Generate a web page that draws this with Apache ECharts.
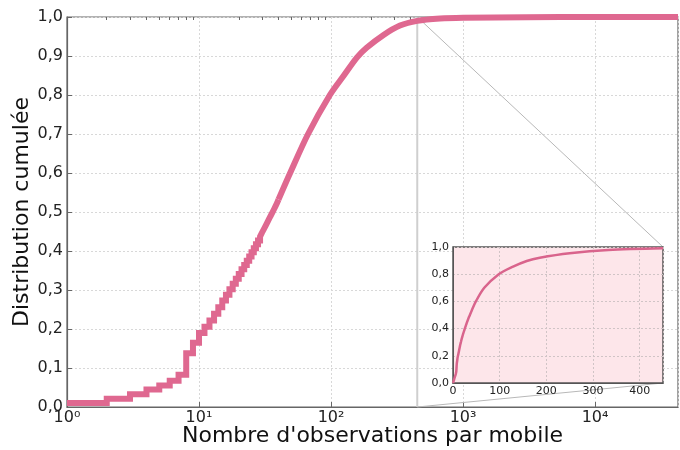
<!DOCTYPE html>
<html>
<head>
<meta charset="utf-8">
<script src="https://cdn.jsdelivr.net/npm/echarts@6/dist/echarts.min.js"></script>
<style>html,body{margin:0;padding:0;background:#fff}#c{width:680px;height:450px}</style>
</head>
<body>
<div id="c"></div>
<script>
// Integer steps of the empirical CDF (visible staircase)
const stepObs = [1,2,3,4,5,6,7,8,9,10,11,12,13,14,15,16,17,18,19,20,21,22,23,24,25,26,27,28,29,30,31,32,33,34,35,36,37,38,39,40];
const stepCdf = [0.010,0.021,0.033,0.045,0.055,0.067,0.083,0.138,0.165,0.190,0.206,0.222,0.239,0.256,0.273,0.288,0.302,0.316,0.329,0.341,0.353,0.364,0.375,0.386,0.397,0.407,0.417,0.427,0.437,0.447,0.456,0.465,0.474,0.483,0.491,0.499,0.507,0.515,0.523,0.532];
// Smooth tail of the CDF
const tailObs = [40,49,67,98,125,158,186,250,333,450,670,1000,3000,10000,42500];
const tailCdf = [0.532,0.600,0.700,0.800,0.850,0.897,0.921,0.954,0.978,0.990,0.996,0.998,0.9995,0.9999,1.0];
// Inset origin point
const insetStartObs = [0];
const insetStartCdf = [0];
// Axis settings
const xMaxMain = 42500;
const zoomLimit = 450;
const xMajorTicks = [1,10,100,1000,10000];
const xMinorTicks = [];
for (const d of xMajorTicks) for (let k=2;k<=9;k++) if (d*k < xMaxMain) xMinorTicks.push(d*k);
const sup = ['\u2070','\u00B9','\u00B2','\u00B3','\u2074','\u2075'];

const pairs = (xs, ys) => xs.map((x,i)=>[x, ys[i]]);
const stepData = pairs(stepObs, stepCdf);
const tailData = pairs(tailObs, tailCdf);
const insetData = pairs(insetStartObs, insetStartCdf).concat(stepData, tailData.slice(1)).filter(p=>p[0] <= zoomLimit);

const FONT = 'DejaVu Sans';
const comma = v => v.toFixed(1).replace('.', ',');
const pink = '#df6890';

const chart = echarts.init(document.getElementById('c'), null, {renderer:'canvas'});
chart.setOption({
  animation: false,
  textStyle: {fontFamily: FONT},
  grid: [
    {left: 67, right: 2, top: 17, bottom: 43, outerBoundsMode: 'none', containLabel: false, show: true, borderColor: '#666', borderWidth: 1.2, backgroundColor: 'transparent'},
    {left: 453, width: 210, top: 247, height: 136, outerBoundsMode: 'none', containLabel: false, show: true, borderColor: '#555', borderWidth: 1.5, backgroundColor: '#fde6ea', z: 5}
  ],
  xAxis: [
    {type: 'log', logBase: 10, min: 1, max: xMaxMain, gridIndex: 0,
     name: "Nombre d'observations par mobile", nameLocation: 'middle', nameGap: 18, nameMoveOverlap: false,
     nameTextStyle: {fontSize: 22, color: '#111', fontFamily: FONT},
     axisLine: {show: true, lineStyle: {color: '#666', width: 1.2}},
     axisTick: {show: true, inside: true, length: 5, lineStyle: {color: '#666'}},
     axisLabel: {fontSize: 16, color: '#222', margin: 3, showMaxLabel: false,
       formatter: v => { const e = Math.round(Math.log10(v)); if (Math.abs(Math.pow(10,e)-v) > 1e-6*v) return ''; return '10' + sup[e]; }},
     splitLine: {show: true, lineStyle: {color: '#d8d8d8', type: [2,2], width: 1}}},
    {type: 'log', logBase: 10, min: 1, max: xMaxMain, gridIndex: 0,
     axisLine: {show: false}, axisLabel: {show: false}, splitLine: {show: false},
     axisTick: {show: true, inside: true, length: 3, customValues: xMinorTicks, lineStyle: {color: '#666'}}},
    {type: 'value', min: 0, max: zoomLimit, interval: 100, gridIndex: 1, z: 6,
     axisLine: {show: true, lineStyle: {color: '#555'}},
     axisTick: {show: false},
     axisLabel: {fontSize: 11, color: '#222', margin: 3, showMaxLabel: false},
     splitLine: {show: true, lineStyle: {color: '#d0c4c6', type: [2,2]}}}
  ],
  yAxis: [
    {type: 'value', min: 0, max: 1, interval: 0.1, gridIndex: 0,
     name: 'Distribution cumulée', nameLocation: 'middle', nameGap: 34, nameMoveOverlap: false,
     nameTextStyle: {fontSize: 22, color: '#111', fontFamily: FONT},
     axisLine: {show: true, lineStyle: {color: '#666', width: 1.2}},
     axisTick: {show: true, inside: true, length: 5, lineStyle: {color: '#666'}},
     axisLabel: {fontSize: 16, color: '#222', margin: 4, formatter: comma},
     splitLine: {show: true, lineStyle: {color: '#d8d8d8', type: [2,2], width: 1}}},
    {type: 'value', min: 0, max: 1, interval: 0.2, gridIndex: 1, z: 6,
     axisLine: {show: true, lineStyle: {color: '#555'}},
     axisTick: {show: false},
     axisLabel: {fontSize: 11, color: '#222', margin: 4, formatter: comma},
     splitLine: {show: true, lineStyle: {color: '#d0c4c6', type: [2,2]}}}
  ],
  series: [
    {type: 'line', xAxisIndex: 0, yAxisIndex: 0, data: stepData, step: 'end', showSymbol: false,
     lineStyle: {color: pink, width: 6, cap: 'butt', join: 'miter'}, z: 3},
    {type: 'line', xAxisIndex: 0, yAxisIndex: 0, data: tailData, showSymbol: false, smooth: 0.3,
     lineStyle: {color: pink, width: 6, cap: 'butt'}, z: 3},
    {type: 'line', xAxisIndex: 2, yAxisIndex: 1, data: insetData, showSymbol: false, smooth: 0.3,
     lineStyle: {color: '#d9648c', width: 2.5}, z: 8, clip: true}
  ]
});

function px(gi, pt) { return chart.convertToPixel({gridIndex: gi}, pt); }
const mTop = px(0, [zoomLimit, 1]);
const mBot = px(0, [zoomLimit, 0]);
const iTop = px(1, [zoomLimit, 1]);
const iBot = px(1, [zoomLimit, 0]);
chart.setOption({
  graphic: [
    {type: 'line', z: 1, shape: {x1: mTop[0], y1: mTop[1], x2: mBot[0], y2: mBot[1]}, style: {stroke: '#cfcfcf', lineWidth: 2}},
    {type: 'line', z: 1, shape: {x1: mTop[0], y1: mTop[1], x2: iTop[0], y2: iTop[1]}, style: {stroke: '#b8b8b8', lineWidth: 1}},
    {type: 'line', z: 1, shape: {x1: mBot[0], y1: mBot[1], x2: iBot[0], y2: iBot[1]}, style: {stroke: '#b8b8b8', lineWidth: 1}}
  ]
});
</script>
</body>
</html>
